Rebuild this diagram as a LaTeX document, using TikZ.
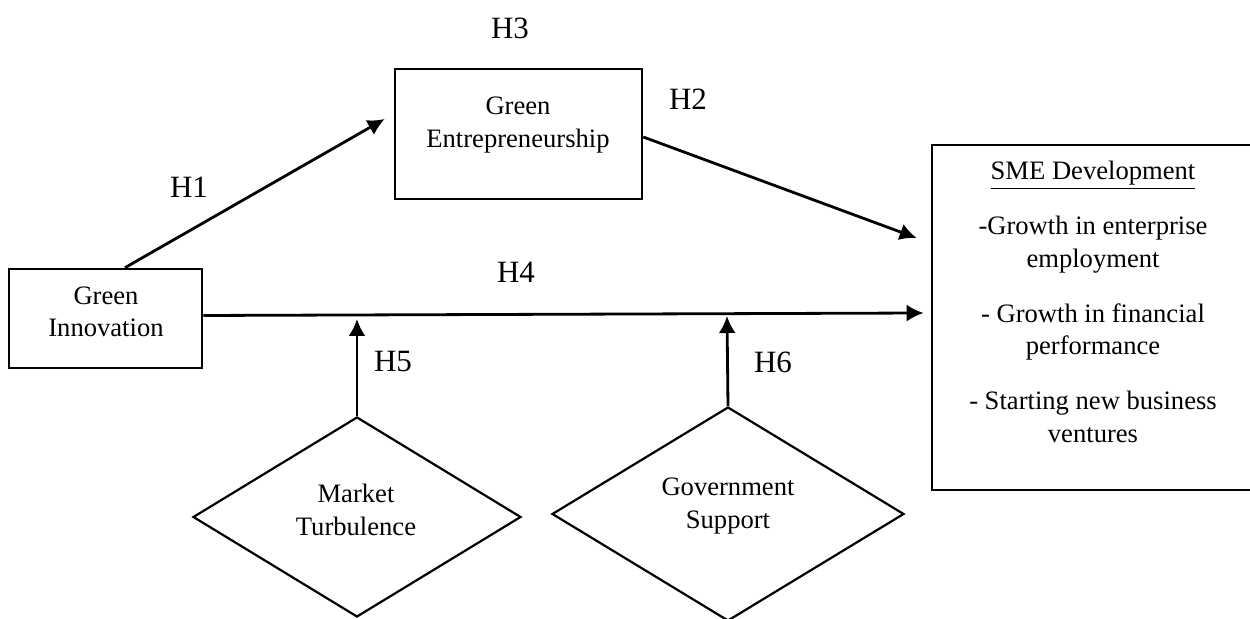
\documentclass[tikz,border=0pt]{standalone}
\usepackage{fontspec}
\setmainfont{Liberation Serif}
\usetikzlibrary{shapes.geometric,arrows.meta}
\begin{document}
\begin{tikzpicture}[x=0.5pt,y=-0.5pt,
  boxnode/.style={draw, line width=1.3pt, rectangle, inner sep=0pt},
  decision/.style={draw, line width=1.1pt, diamond, inner sep=0pt},
  boxtext/.style={align=center, font=\fontsize{13.3}{16.3}\selectfont, inner sep=0pt},
  hyp/.style={font=\fontsize{15.5}{19}\selectfont, anchor=base, inner sep=0pt},
  link/.style={line width=1.4pt, -{Latex[length=8.5pt,width=8.5pt]}}]
\clip (0,0) rectangle (1250,619);

% constructs
\node[boxnode, minimum width=96.5pt, minimum height=49.5pt] (gi) at (105.5,318.5) {};
\node[boxtext] (gitext) at (106,312) {Green\\Innovation};

\node[boxnode, minimum width=123.5pt, minimum height=65pt] (ge) at (518.5,134) {};
\node[boxtext] (getext) at (518,125.3) {Green\\Entrepreneurship};

\node[boxnode, minimum width=160pt, minimum height=172.5pt] (sme) at (1092,317.5) {};
\node[boxtext, font=\fontsize{13.3}{16.2}\selectfont] (smetext) at (1093,302)
  {\underline{SME Development}\\[11.3pt]
   -Growth in enterprise\\employment\\[11.3pt]
   - Growth in financial\\performance\\[11.3pt]
   - Starting new business\\ventures};

% moderators
\node[decision, minimum width=164pt, minimum height=100pt] (mt) at (357,517) {};
\node[boxtext] (mttext) at (356,510) {Market\\Turbulence};

\node[decision, minimum width=176pt, minimum height=107pt] (gs) at (728,514) {};
\node[boxtext] (gstext) at (728,505.8) {Government\\Support};

% moderation targets on the direct path
\coordinate (h5tip) at (357,319);
\coordinate (h6tip) at (727,316);

% paths
\draw[link] ([xshift=9.75pt]gi.north) -- ([xshift=-4.5pt,yshift=7.5pt]ge.west);
\draw[link] ([yshift=-1.5pt]ge.east) -- ([xshift=-7pt,yshift=39.75pt]sme.west);
\draw[link] ([yshift=1.5pt]gi.east) -- ([xshift=-3.5pt,yshift=2.25pt]sme.west);
\draw[link] (mt.north) -- (h5tip);
\draw[link] (gs.north) -- (h6tip);

% hypotheses
\node[hyp] (h1) at (189,198) {H1};
\node[hyp] (h2) at (688,110) {H2};
\node[hyp] (h3) at (510,39) {H3};
\node[hyp] (h4) at (516,283) {H4};
\node[hyp] (h5) at (393,372) {H5};
\node[hyp] (h6) at (773,373) {H6};
\end{tikzpicture}
\end{document}
